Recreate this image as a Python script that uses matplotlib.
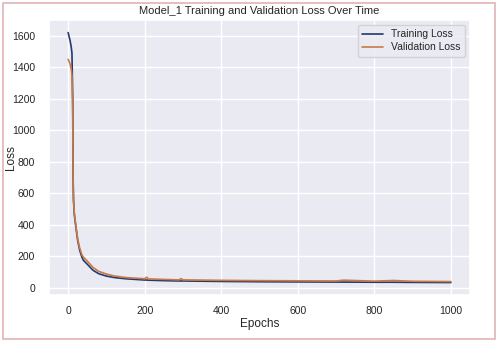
import matplotlib
matplotlib.use("Agg")
import matplotlib.pyplot as plt
import seaborn as sns
from matplotlib.patches import Rectangle

# loss curves
epochs = [0, 2, 5, 8, 10, 12, 13, 14, 16, 20, 25, 30, 36, 40, 50, 65, 80,
          100, 120, 150, 200, 205, 210, 250, 290, 295, 300, 400, 500, 600,
          700, 720, 800, 850, 900, 1000]
train_loss = [1620, 1600, 1570, 1530, 1490, 1200, 700, 560, 470, 390, 300,
              240, 195, 175, 150, 112, 90, 75, 66, 58, 50, 50, 49, 46, 44, 44,
              44, 41, 39, 38, 37, 37, 36, 36, 35, 34]
val_loss = [1450, 1440, 1420, 1390, 1350, 1100, 680, 560, 480, 400, 310,
            255, 210, 195, 170, 130, 105, 88, 76, 66, 58, 68, 57, 54, 51, 59,
            51, 48, 46, 45, 44, 49, 43, 47, 42, 40]

sns.set_theme(style="darkgrid")
plt.rcParams['font.family'] = ['Liberation Sans', 'DejaVu Sans']

fig = plt.figure(figsize=(4.98, 3.42), dpi=100)
ax = fig.add_axes([49 / 498, 1 - 295 / 342, 421 / 498, 275 / 342])

ax.plot(epochs, train_loss, color='#27396b', lw=1.2, label='Training Loss')
ax.plot(epochs, val_loss, color='#c67a48', lw=1.2, label='Validation Loss')

ax.set_xlim(-50, 1050)
ax.set_ylim(-45, 1700)
ax.set_xticks([0, 200, 400, 600, 800, 1000])
ax.set_yticks([0, 200, 400, 600, 800, 1000, 1200, 1400, 1600])
ax.tick_params(axis='y', labelsize=7.5, pad=4)
ax.tick_params(axis='x', labelsize=7.5, pad=2)
ax.set_title('Model_1 Training and Validation Loss Over Time', fontsize=8, pad=4)
ax.set_xlabel('Epochs', fontsize=8.5, labelpad=1)
ax.set_ylabel('Loss', fontsize=8.5)
ax.yaxis.set_label_coords(-0.076, 0.5)
ax.legend(loc='upper right', fontsize=7.5, handlelength=2.0,
          borderpad=0.4, labelspacing=0.3)

fig.patches.append(Rectangle((3 / 498, 3 / 342), 492 / 498, 336 / 342,
                             transform=fig.transFigure, fill=False,
                             edgecolor='#e2b3b6', lw=1.2))

fig.savefig('out.png', dpi=100)
